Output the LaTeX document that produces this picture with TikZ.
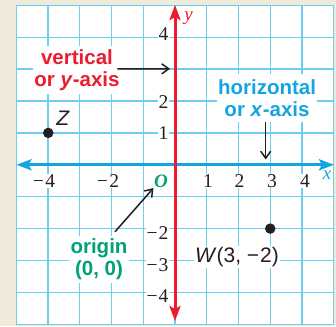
\documentclass[tikz,border=0pt]{standalone}
\usepackage{fontspec}
\setmainfont{Liberation Serif}
\newfontfamily\lsans{Liberation Sans}
\usetikzlibrary{arrows.meta}
\definecolor{beige}{RGB}{240,234,218}
\definecolor{gridc}{RGB}{110,205,243}
\definecolor{axblue}{RGB}{20,165,225}
\definecolor{axred}{RGB}{236,28,46}
\definecolor{orgreen}{RGB}{0,160,120}
\definecolor{ink}{RGB}{35,31,32}
\begin{document}
\begin{tikzpicture}[x=1pt,y=-1pt,
  gridline/.style={gridc,line width=1.3pt},
  tick/.style={font=\fontsize{19.5}{19.5}\selectfont,text=ink,fill=white,inner sep=0.5pt},
  axlabel/.style={font=\fontsize{19}{19}\selectfont\itshape,inner sep=0.5pt},
  callout/.style={font={\lsans\bfseries\fontsize{20.5}{22}\selectfont},fill=white,align=center,inner xsep=1.5pt,inner ysep=3pt},
  ptlabel/.style={font={\lsans\fontsize{21}{21}\selectfont},text=ink,inner sep=1.5pt},
  pointer/.style={ink,line width=1.5pt,-{Straight Barb[length=7pt,width=10pt]}},
  dot/.style={circle,fill=ink,minimum size=10.5pt,inner sep=0pt},
  axis/.style={line width=3pt,{Stealth[length=15pt,width=11pt,inset=3pt]}-{Stealth[length=15pt,width=11pt,inset=3pt]}}]
% background and grid
\fill[beige] (0,0) rectangle (336,326);
\useasboundingbox (0,0) rectangle (336,326);
\fill[white] (16.25,5.3) rectangle (333.75,324.3);
\foreach \i in {-5,...,5}
  \draw[gridline] ({175+31.75*\i},5.3) -- ({175+31.75*\i},324.3);
\foreach \j in {-5,...,5}
  \draw[gridline] (16.25,{164.8-31.9*\j}) -- (333.75,{164.8-31.9*\j});
% y tick labels
\node[tick,anchor=east] (y4) at (169,34) {4};
\node[tick,anchor=east] (y2) at (169,102) {2};
\node[tick,anchor=east] (y1) at (169,133) {1};
\node[tick,anchor=east] (ym2) at (169,233) {−\kern1pt2};
\node[tick,anchor=east] (ym3) at (169,265) {−\kern1pt3};
\node[tick,anchor=east] (ym4) at (169,296) {−\kern1pt4};
% x tick labels
\node[tick] (xm4) at (44,181) {−\kern1.5pt4};
\node[tick] (xm2) at (108,181) {−\kern1.5pt2};
\node[tick] (x1) at (208,181) {1};
\node[tick] (x2) at (239.5,181) {2};
\node[tick] (x3) at (272,181) {3};
\node[tick] (x4) at (305,181) {4};
% axis names
\node[axlabel,text=orgreen,font=\fontsize{19}{19}\selectfont\bfseries\itshape] (O) at (161,181) {O};
\node[axlabel,text=axred] (ylab) at (188.5,18) {y};
\node[axlabel,text=axblue] (xlab) at (327,175) {x};
% callouts
\node[callout,text=axred] (vlab) at (77,70) {vertical\\or \textit{y}-axis};
\node[callout,text=axblue,inner ysep=5pt] (hlab) at (267,98) {horizontal\\or \textit{x}-axis};
\node[callout,text=orgreen,inner ysep=3pt] (olab) at (99,259.5) {origin\\(0, 0)};
\node[ptlabel,fill=white] (wlab) at (237,257) {\textit{W}(3, −\kern1pt2)};
\node[ptlabel] (zlab) at (63,118) {\textit{Z}};
% axes
\draw[axis,axblue] (16.5,164.8) -- (334,164.8);
\draw[axis,axred] (175,5) -- (175,321);
% pointers
\coordinate (yaxpt) at (170,68.8);
\coordinate (xaxpt) at (265.7,159.5);
\draw[pointer] ([xshift=-4pt,yshift=1pt]vlab.east) -- (yaxpt);
\draw[pointer] (hlab.south -| xaxpt) -- (xaxpt);
\draw[pointer] ([xshift=16pt,yshift=4pt]olab.north) -- (O.south west);
% points
\node[dot] (Z) at (48.25,132.9) {};
\node[dot] (W) at (270.25,228.6) {};
\end{tikzpicture}
\end{document}
